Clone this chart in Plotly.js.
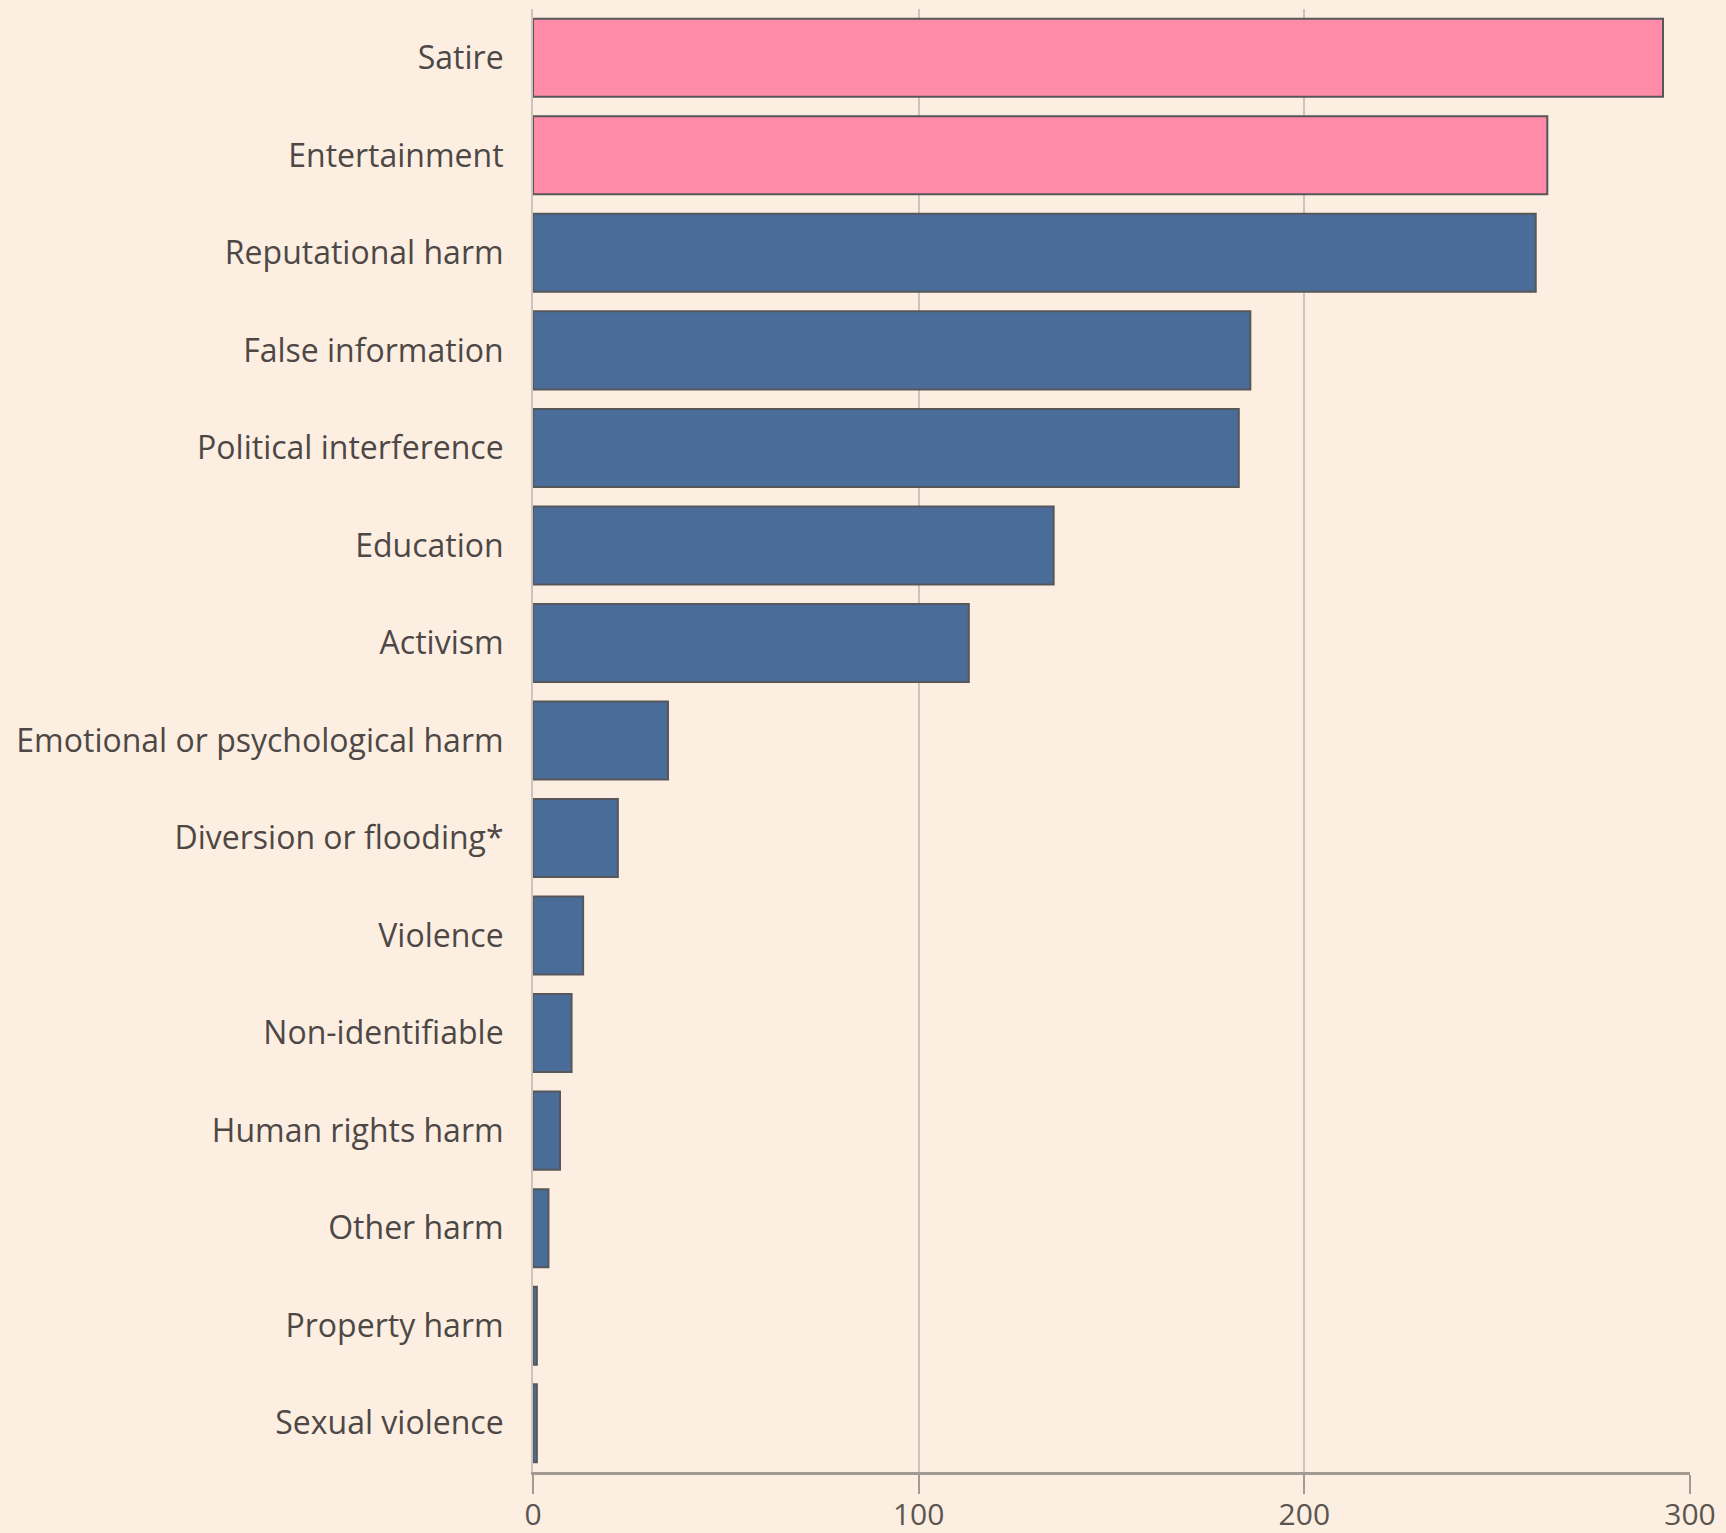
<!DOCTYPE html>
<html>
<head>
<meta charset="utf-8">
<script src="https://cdn.plot.ly/plotly-3.0.1.min.js"></script>
<style>
  html, body { margin: 0; padding: 0; background: #fdeee2; }
  #chart { width: 1726px; height: 1533px; }
</style>
</head>
<body>
<div id="chart"></div>
<script>
// Data (top to bottom as shown)
const categories = [
  "Satire", "Entertainment", "Reputational harm", "False information",
  "Political interference", "Education", "Activism",
  "Emotional or psychological harm", "Diversion or flooding*", "Violence",
  "Non-identifiable", "Human rights harm", "Other harm", "Property harm",
  "Sexual violence"
];
const counts = [293, 263, 260, 186, 183, 135, 113, 35, 22, 13, 10, 7, 4, 1, 1];
const highlighted = ["Satire", "Entertainment"];
const xTickValues = [0, 100, 200, 300];

const PINK = "#ff8ba9";
const BLUE = "#4a6c98";
const colors = categories.map(c => highlighted.includes(c) ? PINK : BLUE);

const trace = {
  type: "bar",
  orientation: "h",
  y: categories,
  x: counts,
  marker: { color: colors, line: { color: "#57575a", width: 2 } },
  width: 0.8,
  hoverinfo: "x+y"
};

const layout = {
  width: 1726,
  height: 1533,
  paper_bgcolor: "#fdeee2",
  plot_bgcolor: "#fdeee2",
  margin: { l: 533, r: 36, t: 9, b: 61 },
  showlegend: false,
  font: { family: "'Open Sans', 'Noto Sans', sans-serif", color: "#4d4845" },
  xaxis: {
    range: [0, 300],
    tickvals: xTickValues,
    ticktext: xTickValues.map(String),
    showgrid: true,
    gridcolor: "#cdc3ba",
    gridwidth: 2,
    zeroline: false,
    showline: true,
    linecolor: "#a39b93",
    linewidth: 3,
    ticks: "outside",
    ticklen: 19,
    tickwidth: 2,
    tickcolor: "#a39b93",
    ticklabelstandoff: -5,
    tickfont: { size: 30, color: "#5a5550" },
    fixedrange: true
  },
  yaxis: {
    type: "category",
    autorange: "reversed",
    showgrid: false,
    zeroline: false,
    showline: true,
    linecolor: "#cdc3ba",
    linewidth: 2,
    ticks: "",
    ticklabelstandoff: 21,
    tickfont: { size: 32, color: "#4d4845" },
    fixedrange: true
  }
};

Plotly.newPlot("chart", [trace], layout, { displayModeBar: false, staticPlot: true });
</script>
</body>
</html>
